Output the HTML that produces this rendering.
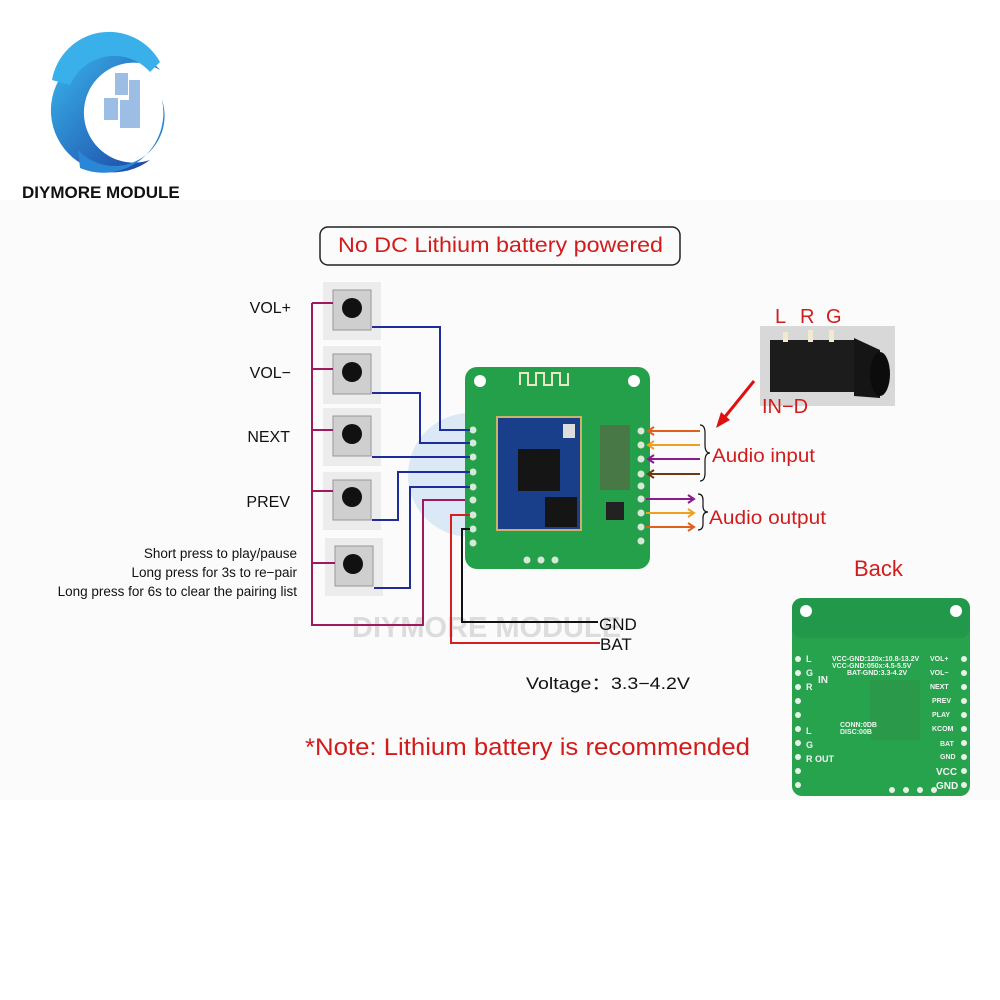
<!DOCTYPE html>
<html><head><style>
html,body{margin:0;padding:0;background:#fff}
svg{display:block}
text{font-family:"Liberation Sans",Arial,sans-serif}
</style></head><body>
<svg width="1000" height="1000" viewBox="0 0 1000 1000" xmlns="http://www.w3.org/2000/svg">
<defs>
<linearGradient id="lg2" x1="1" y1="1" x2="0" y2="0"><stop offset="0" stop-color="#1a3fa0"/><stop offset="1" stop-color="#3bb8ee"/></linearGradient>
</defs>
<rect x="0" y="200" width="1000" height="600" fill="#fbfbfb"/>
<!-- logo -->
<path d="M160,70 A62,62 0 1 0 150,160 A50,50 0 1 1 160,70 Z" fill="url(#lg2)"/>
<path d="M52,80 A58,58 0 0 1 160,62 L150,72 A48,48 0 0 0 70,85 Z" fill="#3ab0ea"/>
<path d="M78,150 A50,50 0 0 0 162,100 A60,60 0 0 1 80,168 Z" fill="#2a86d6"/>
<g fill="#9cbde4">
<rect x="115" y="73" width="13" height="22"/><rect x="129" y="80" width="11" height="20"/>
<rect x="104" y="98" width="14" height="22"/><rect x="120" y="100" width="20" height="28"/>
</g>
<text x="22" y="198" font-size="17" font-weight="bold" fill="#111">DIYMORE MODULE</text>
<!-- title -->
<rect x="320" y="227" width="360" height="38" rx="8" fill="none" stroke="#222" stroke-width="1.5"/>
<text x="338" y="252" font-size="21" fill="#d21c1c" textLength="325" lengthAdjust="spacingAndGlyphs">No DC  Lithium battery powered</text>
<!-- labels -->
<g font-size="16" fill="#111" text-anchor="end">
<text x="291" y="313">VOL+</text><text x="291" y="378">VOL−</text><text x="290" y="442">NEXT</text><text x="290" y="507">PREV</text>
</g>
<g font-size="13.5" fill="#111" text-anchor="end">
<text x="297" y="558">Short press to play/pause</text><text x="297" y="577">Long press for 3s to re−pair</text><text x="297" y="596">Long press for 6s to clear the pairing list</text>
</g>
<!-- watermark -->
<circle cx="470" cy="475" r="62" fill="#dbe9f6"/>
<text x="352" y="637" font-size="29" font-weight="bold" fill="#dcdcdc">DIYMORE MODULE</text>
<!-- buttons -->
<g>
<rect x="323" y="282" width="58" height="58" fill="#ececec"/><rect x="333" y="290" width="38" height="40" fill="#cfcfcf" stroke="#999"/><circle cx="352" cy="308" r="10" fill="#111"/>
<rect x="323" y="346" width="58" height="58" fill="#ececec"/><rect x="333" y="354" width="38" height="40" fill="#cfcfcf" stroke="#999"/><circle cx="352" cy="372" r="10" fill="#111"/>
<rect x="323" y="408" width="58" height="58" fill="#ececec"/><rect x="333" y="416" width="38" height="40" fill="#cfcfcf" stroke="#999"/><circle cx="352" cy="434" r="10" fill="#111"/>
<rect x="323" y="472" width="58" height="58" fill="#ececec"/><rect x="333" y="480" width="38" height="40" fill="#cfcfcf" stroke="#999"/><circle cx="352" cy="497" r="10" fill="#111"/>
<rect x="325" y="538" width="58" height="58" fill="#ececec"/><rect x="335" y="546" width="38" height="40" fill="#cfcfcf" stroke="#999"/><circle cx="353" cy="564" r="10" fill="#111"/>
</g>
<!-- magenta -->
<g fill="none" stroke="#a0195e" stroke-width="2">
<path d="M312,303 V625 H423 V500 H470"/>
<path d="M312,303 H333 M312,369 H333 M312,430 H333 M312,491 H333 M312,563 H335"/>
</g>
<!-- board -->
<rect x="465" y="367" width="185" height="202" rx="12" fill="#24a04a"/>
<circle cx="480" cy="381" r="6" fill="#fff"/><circle cx="634" cy="381" r="6" fill="#fff"/>
<path d="M520,385 v-12 h8 v12 h8 v-12 h8 v12 h8 v-12 h8 v12 h8 v-12" fill="none" stroke="#e8e8c8" stroke-width="2"/>
<rect x="497" y="417" width="84" height="113" fill="#1a3f8a" stroke="#c9b26a" stroke-width="2"/>
<rect x="518" y="449" width="42" height="42" fill="#151515"/>
<rect x="545" y="497" width="32" height="30" fill="#151515"/>
<rect x="563" y="424" width="12" height="14" fill="#ddd"/>
<rect x="606" y="502" width="18" height="18" fill="#222"/>
<g fill="#d8e8d8">
<circle cx="473" cy="430" r="3.5"/><circle cx="473" cy="443" r="3.5"/><circle cx="473" cy="457" r="3.5"/><circle cx="473" cy="472" r="3.5"/><circle cx="473" cy="487" r="3.5"/><circle cx="473" cy="500" r="3.5"/><circle cx="473" cy="515" r="3.5"/><circle cx="473" cy="529" r="3.5"/><circle cx="473" cy="543" r="3.5"/>
<circle cx="641" cy="431" r="3.5"/><circle cx="641" cy="445" r="3.5"/><circle cx="641" cy="459" r="3.5"/><circle cx="641" cy="474" r="3.5"/><circle cx="641" cy="486" r="3.5"/><circle cx="641" cy="499" r="3.5"/><circle cx="641" cy="513" r="3.5"/><circle cx="641" cy="527" r="3.5"/><circle cx="641" cy="541" r="3.5"/>
<circle cx="527" cy="560" r="3.5"/><circle cx="541" cy="560" r="3.5"/><circle cx="555" cy="560" r="3.5"/>
</g>
<g fill="#6b5040"><rect x="600" y="425" width="30" height="65" opacity="0.5"/></g>
<!-- blue wires -->
<g fill="none" stroke="#1e2d9a" stroke-width="2">
<path d="M372,327 H440 V430 H470"/>
<path d="M372,393 H420 V443 H470"/>
<path d="M372,457 H470"/>
<path d="M372,520 H398 V472 H470"/>
<path d="M374,588 H410 V487 H470"/>
</g>
<path d="M470,515 H451 V643 H600" fill="none" stroke="#d42020" stroke-width="2"/>
<path d="M470,529 H462 V622 H598" fill="none" stroke="#111" stroke-width="2"/>
<text x="599" y="630" font-size="17" fill="#111">GND</text>
<text x="600" y="650" font-size="17" fill="#111">BAT</text>
<!-- audio arrows -->
<g fill="none" stroke-width="2">
<path d="M700,431 H648 M654,427 L648,431 L654,435" stroke="#e0601e"/>
<path d="M700,445 H648 M654,441 L648,445 L654,449" stroke="#f0a020"/>
<path d="M700,459 H648 M654,455 L648,459 L654,463" stroke="#8b1a8b"/>
<path d="M700,474 H648 M654,470 L648,474 L654,478" stroke="#6b3a10"/>
<path d="M646,499 H694 M688,495 L694,499 L688,503" stroke="#8b1a8b"/>
<path d="M646,513 H694 M688,509 L694,513 L688,517" stroke="#f0a020"/>
<path d="M646,527 H694 M688,523 L694,527 L688,531" stroke="#e0601e"/>
<path d="M700,425 q5,0 5,8 v12 q0,8 5,8 q-5,0 -5,8 v12 q0,8 -5,8" stroke="#111" stroke-width="1.2"/>
<path d="M698,494 q5,0 5,6 v6 q0,6 5,6 q-5,0 -5,6 v6 q0,6 -5,6" stroke="#111" stroke-width="1.2"/>
</g>
<text x="712" y="462" font-size="19" fill="#d21c1c" textLength="103" lengthAdjust="spacingAndGlyphs">Audio input</text>
<text x="709" y="524" font-size="19" fill="#d21c1c" textLength="117" lengthAdjust="spacingAndGlyphs">Audio output</text>
<!-- jack -->
<rect x="760" y="326" width="135" height="80" fill="#d8d8d8"/>
<rect x="770" y="340" width="84" height="52" fill="#1c1c1c"/>
<path d="M854,338 L880,350 V398 L854,396 Z" fill="#151515"/>
<ellipse cx="880" cy="374" rx="10" ry="22" fill="#0c0c0c"/>
<rect x="783" y="332" width="5" height="10" fill="#f0ead0"/><rect x="808" y="330" width="5" height="12" fill="#f0ead0"/><rect x="829" y="330" width="5" height="12" fill="#f0ead0"/>
<g font-size="20" fill="#d21c1c"><text x="775" y="323">L</text><text x="800" y="323">R</text><text x="826" y="323">G</text><text x="762" y="413">IN−D</text></g>
<path d="M754,381 L724,418" stroke="#e01010" stroke-width="3"/>
<path d="M716,428 L721,412 L730,420 Z" fill="#e01010"/>
<!-- texts -->
<text x="526" y="689" font-size="16.5" fill="#111" textLength="164" lengthAdjust="spacingAndGlyphs">Voltage：3.3−4.2V</text>
<text x="305" y="755" font-size="24.5" fill="#d21c1c" textLength="445" lengthAdjust="spacingAndGlyphs">*Note: Lithium battery is recommended</text>
<text x="854" y="576" font-size="22" fill="#d21c1c">Back</text>
<!-- back board -->
<rect x="792" y="598" width="178" height="198" rx="10" fill="#26a34c"/>
<rect x="792" y="598" width="178" height="40" rx="10" fill="#22994a"/>
<circle cx="806" cy="611" r="6" fill="#fff"/><circle cx="956" cy="611" r="6" fill="#fff"/>
<rect x="870" y="680" width="50" height="60" fill="#2a9a4a"/>
<g fill="#e8f0e8">
<circle cx="798" cy="659" r="3"/><circle cx="798" cy="673" r="3"/><circle cx="798" cy="687" r="3"/><circle cx="798" cy="701" r="3"/><circle cx="798" cy="715" r="3"/><circle cx="798" cy="729" r="3"/><circle cx="798" cy="743" r="3"/><circle cx="798" cy="757" r="3"/><circle cx="798" cy="771" r="3"/><circle cx="798" cy="785" r="3"/>
<circle cx="964" cy="659" r="3"/><circle cx="964" cy="673" r="3"/><circle cx="964" cy="687" r="3"/><circle cx="964" cy="701" r="3"/><circle cx="964" cy="715" r="3"/><circle cx="964" cy="729" r="3"/><circle cx="964" cy="743" r="3"/><circle cx="964" cy="757" r="3"/><circle cx="964" cy="771" r="3"/><circle cx="964" cy="785" r="3"/>
<circle cx="892" cy="790" r="3"/><circle cx="906" cy="790" r="3"/><circle cx="920" cy="790" r="3"/><circle cx="934" cy="790" r="3"/>
</g>
<g fill="#f4f4f4" font-size="7" font-weight="bold">
<text x="806" y="662" font-size="9">L</text><text x="806" y="676" font-size="9">G</text><text x="806" y="690" font-size="9">R</text><text x="806" y="734" font-size="9">L</text><text x="806" y="748" font-size="9">G</text><text x="806" y="762" font-size="9">R OUT</text>
<text x="818" y="683" font-size="10">IN</text>
<text x="832" y="661">VCC-GND:120x:10.8-13.2V</text><text x="832" y="668">VCC-GND:050x:4.5-5.5V</text><text x="847" y="675">BAT-GND:3.3-4.2V</text>
<text x="840" y="727">CONN:0DB</text><text x="840" y="734">DISC:00B</text>
<text x="930" y="661">VOL+</text><text x="930" y="675">VOL−</text><text x="930" y="689">NEXT</text><text x="932" y="703">PREV</text><text x="932" y="717">PLAY</text><text x="932" y="731">KCOM</text><text x="940" y="746">BAT</text><text x="940" y="759">GND</text>
<text x="936" y="775" font-size="10">VCC</text><text x="936" y="789" font-size="10">GND</text>
</g>
</svg>
</body></html>
